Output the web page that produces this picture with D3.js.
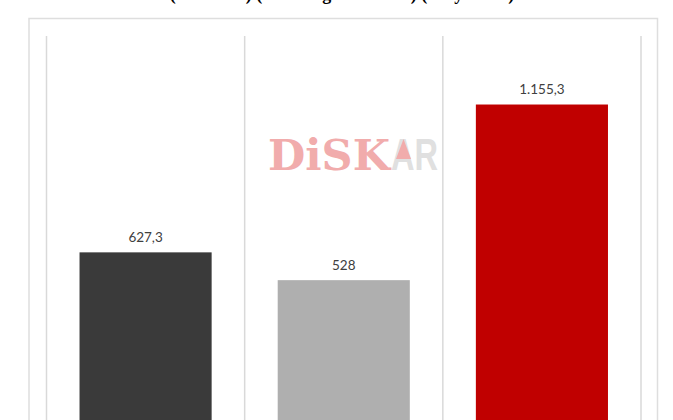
<!DOCTYPE html>
<html><head><meta charset="utf-8">
<script src="https://cdn.jsdelivr.net/npm/d3@7"></script>
<style>html,body{margin:0;padding:0;background:#fff;overflow:hidden}</style>
</head><body>
<svg id="c" width="673" height="420"></svg>
<script>
const title = "(Birikimli) (Ocak-Ağustos 2025) (Milyar TL)";
const categories = ["Kategori 1", "Kategori 2", "Kategori 3"];
const values = [627.3, 528, 1155.3];
const valueLabels = ["627,3", "528", "1.155,3"];
const colors = ["#3a3a3a", "#afafaf", "#c00000"];
const yMax = 1400;

const svg = d3.select("#c");
// outer frame
svg.append("rect").attr("x", 29).attr("y", 18.5).attr("width", 628.5).attr("height", 460)
  .attr("fill", "#fff").attr("stroke", "#dedede").attr("stroke-width", 1.5);

// title (mostly cut off by top edge)
svg.append("text").attr("x", 342).attr("y", 0)
  .attr("text-anchor", "middle").attr("font-family", "Liberation Serif")
  .attr("font-weight", "bold").attr("font-size", 18).attr("fill", "#000").text(title);

const x = d3.scaleBand().domain(categories).range([46.5, 641]).padding(0);
const y = d3.scaleLinear().domain([0, yMax]).range([428, 36]);

// vertical gridlines at category boundaries
const bounds = categories.map(c => x(c)).concat([x(categories[categories.length-1]) + x.bandwidth()]);
svg.append("g").selectAll("line").data(bounds).join("line")
  .attr("x1", d => d).attr("x2", d => d).attr("y1", y(yMax)).attr("y2", 440)
  .attr("stroke", "#d9d9d9").attr("stroke-width", 1.5);

// watermark
const wm = svg.append("g");
wm.append("text").attr("x", 268).attr("y", 170)
  .attr("font-family", "DejaVu Serif").attr("font-weight", "bold").attr("font-size", 43)
  .attr("textLength", 122).attr("lengthAdjust", "spacingAndGlyphs")
  .attr("fill", "#f1acac").text("DiSK");
wm.append("text").attr("x", 391).attr("y", 170)
  .attr("font-family", "Liberation Sans").attr("font-weight", "bold").attr("font-size", 45)
  .attr("textLength", 47).attr("lengthAdjust", "spacingAndGlyphs")
  .attr("fill", "#e0e0e0").text("AR");
wm.append("path").attr("d", "M396,159 L403.5,139 L411,159 Z").attr("fill", "#f1acac");

const bw = x.bandwidth() * 2 / 3;
svg.append("g").selectAll("rect").data(values).join("rect")
  .attr("x", (d, i) => x(categories[i]) + (x.bandwidth() - bw) / 2)
  .attr("width", bw)
  .attr("y", d => y(d))
  .attr("height", d => y(0) - y(d))
  .attr("fill", (d, i) => colors[i]);

svg.append("g").selectAll("text").data(values).join("text")
  .attr("x", (d, i) => x(categories[i]) + x.bandwidth() / 2)
  .attr("y", d => y(d) - 10.5)
  .attr("text-anchor", "middle").attr("font-family", "Lato").attr("font-size", 13.5)
  .attr("fill", "#404040").text((d, i) => valueLabels[i]);
</script>
</body></html>
